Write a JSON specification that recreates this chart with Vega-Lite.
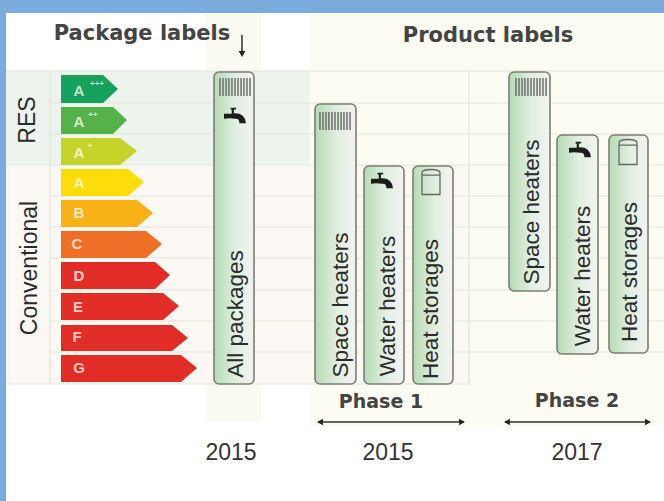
{
"$schema":"https://vega.github.io/schema/vega-lite/v6.json",
"width":664,"height":501,"padding":0,"autosize":{"type":"none"},
"background":"white",
"config":{"view":{"stroke":null},"axis":{"grid":false}},
"resolve":{"scale":{"color":"independent","shape":"independent"}},
"datasets":{
"regions":[
{"region":"Product labels","x":310,"x2":664,"y":13,"y2":426},
{"region":"Package labels","x":205,"x2":261,"y":13,"y2":421},
{"region":"RES","x":6,"x2":310,"y":71,"y2":165},
{"region":"Conventional","x":6,"x2":470,"y":165,"y2":384},
{"region":"Frame top","x":0,"x2":664,"y":0,"y2":13},
{"region":"Frame left","x":0,"x2":6,"y":0,"y2":501}
],
"grid":[
{"x":6,"x2":664,"y":71,"y2":71},{"x":50,"x2":664,"y":103,"y2":103},{"x":50,"x2":664,"y":134,"y2":134},
{"x":6,"x2":664,"y":165,"y2":165},{"x":50,"x2":664,"y":196,"y2":196},{"x":50,"x2":664,"y":227,"y2":227},
{"x":50,"x2":664,"y":258,"y2":258},{"x":50,"x2":664,"y":290,"y2":290},{"x":50,"x2":664,"y":321,"y2":321},
{"x":50,"x2":664,"y":352,"y2":352},{"x":6,"x2":470,"y":384,"y2":384},
{"x":50,"x2":50,"y":71,"y2":384},{"x":469,"x2":469,"y":71,"y2":385}
],
"tags":[
{"c":"A+++","x":61,"y":75,"y2":103},{"c":"A+++","x":103,"y":75,"y2":103},{"c":"A+++","x":118,"y":89,"y2":89},
{"c":"A++","x":61,"y":107,"y2":134},{"c":"A++","x":113,"y":107,"y2":134},{"c":"A++","x":127,"y":120,"y2":120},
{"c":"A+","x":61,"y":138,"y2":165},{"c":"A+","x":120,"y":138,"y2":165},{"c":"A+","x":137,"y":151,"y2":151},
{"c":"A","x":61,"y":169,"y2":196},{"c":"A","x":128,"y":169,"y2":196},{"c":"A","x":144,"y":182,"y2":182},
{"c":"B","x":61,"y":200,"y2":227},{"c":"B","x":137,"y":200,"y2":227},{"c":"B","x":153,"y":213,"y2":213},
{"c":"C","x":61,"y":231,"y2":258},{"c":"C","x":146,"y":231,"y2":258},{"c":"C","x":162,"y":244,"y2":244},
{"c":"D","x":61,"y":262,"y2":289},{"c":"D","x":155,"y":262,"y2":289},{"c":"D","x":170,"y":275,"y2":275},
{"c":"E","x":61,"y":293,"y2":320},{"c":"E","x":163,"y":293,"y2":320},{"c":"E","x":179,"y":306,"y2":306},
{"c":"F","x":61,"y":325,"y2":351},{"c":"F","x":172,"y":325,"y2":351},{"c":"F","x":188,"y":338,"y2":338},
{"c":"G","x":61,"y":355,"y2":382},{"c":"G","x":181,"y":355,"y2":382},{"c":"G","x":197,"y":368,"y2":368}
],
"tagLetters":[
{"t":"A","x":79,"y":91},{"t":"A","x":79,"y":122},{"t":"A","x":79,"y":153},{"t":"A","x":79,"y":183},
{"t":"B","x":79,"y":213},{"t":"C","x":77,"y":244},{"t":"D","x":79,"y":276},{"t":"E","x":78,"y":307},
{"t":"F","x":77,"y":337},{"t":"G","x":79,"y":368}
],
"tagPlus":[{"t":"+++","x":97,"y":84},{"t":"++","x":93,"y":115},{"t":"+","x":90,"y":146}],
"bars":[
{"name":"All packages","x":214,"x2":254,"y":72,"y2":384},
{"name":"Space heaters","x":315,"x2":356,"y":104,"y2":384},
{"name":"Water heaters","x":364,"x2":404,"y":166,"y2":384},
{"name":"Heat storages","x":413,"x2":453,"y":166,"y2":384},
{"name":"Space heaters","x":509,"x2":550,"y":72,"y2":291},
{"name":"Water heaters","x":557,"x2":598,"y":135,"y2":354},
{"name":"Heat storages","x":609,"x2":648,"y":135,"y2":353}
],
"barText":[
{"t":"All packages","x":236,"y":314},
{"t":"Space heaters","x":341,"y":305},
{"t":"Water heaters","x":388,"y":306},
{"t":"Heat storages","x":431,"y":309},
{"t":"Space heaters","x":532,"y":212},
{"t":"Water heaters","x":583,"y":276},
{"t":"Heat storages","x":630,"y":272}
],
"radiators":[{"x":235,"y":87},{"x":335,"y":121},{"x":531,"y":87}],
"faucets":[{"x":235,"y":116},{"x":382,"y":181},{"x":580,"y":150}],
"tanks":[{"x":431,"y":182},{"x":628,"y":152}],
"heads":[
{"t":"Package labels","x":142,"y":34},
{"t":"Product labels","x":488,"y":36}
],
"phases":[
{"t":"Phase 1","x":381,"y":402},
{"t":"Phase 2","x":577,"y":401}
],
"side":[{"t":"RES","x":28,"y":120},{"t":"Conventional","x":30,"y":268}],
"years":[{"t":"2015","x":231,"y":453},{"t":"2015","x":388,"y":453},{"t":"2017","x":577,"y":453}],
"arrowLines":[
{"x":242,"x2":242,"y":35,"y2":54},
{"x":318,"x2":464,"y":422,"y2":422},
{"x":505,"x2":650,"y":422,"y2":422}
],
"arrowHeads":[
{"d":"down","x":242,"y":54},
{"d":"left","x":320,"y":422},{"d":"right","x":462,"y":422},
{"d":"left","x":507,"y":422},{"d":"right","x":648,"y":422}
]
},
"encoding":{
"x":{"field":"x","type":"quantitative","axis":null,"scale":{"domain":[0,664],"nice":false,"zero":false}},
"y":{"field":"y","type":"quantitative","axis":null,"scale":{"domain":[0,501],"nice":false,"zero":false,"reverse":true}}
},
"layer":[
{"data":{"name":"regions"},"mark":{"type":"rect"},
"encoding":{"x2":{"field":"x2"},"y2":{"field":"y2"},
"color":{"field":"region","type":"nominal","legend":null,"scale":{"domain":["Product labels","Package labels","RES","Conventional","Frame top","Frame left"],"range":["#fcfcf3","#fafaf1","#edf4ee","#fcf8f3","#7aabdc","#7aabdc"]}}}},
{"data":{"name":"grid"},"mark":{"type":"rule","color":"#e4e4d8","strokeWidth":1.2},
"encoding":{"x2":{"field":"x2"},"y2":{"field":"y2"}}},
{"data":{"name":"tags"},"mark":{"type":"area","orient":"vertical","opacity":0.97},
"encoding":{"y2":{"field":"y2"},
"color":{"field":"c","type":"nominal","legend":null,"scale":{"domain":["A+++","A++","A+","A","B","C","D","E","F","G"],"range":["#0e9e57","#4fb044","#c2d321","#fcdc00","#f8b00f","#ee6a1f","#e1261f","#e1261f","#e1261f","#e1261f"]}}}},
{"data":{"name":"tagLetters"},"mark":{"type":"text","font":"Liberation Sans","fontWeight":"bold","fontSize":15,"color":"#ffffff","opacity":0.75,"align":"center","baseline":"middle"},
"encoding":{"text":{"field":"t"}}},
{"data":{"name":"tagPlus"},"mark":{"type":"text","font":"Liberation Sans","fontWeight":"bold","fontSize":8,"color":"#ffffff","opacity":0.75,"align":"center","baseline":"middle"},
"encoding":{"text":{"field":"t"}}},
{"data":{"name":"bars"},"mark":{"type":"rect","cornerRadius":5,"stroke":"#7d7d75","strokeWidth":1.6,
"fill":{"x1":0,"y1":0,"x2":1,"y2":0,"gradient":"linear","stops":[{"offset":0,"color":"#b5dbb3"},{"offset":0.55,"color":"#e2efe2"},{"offset":1,"color":"#f3f3f1"}]}},
"encoding":{"x2":{"field":"x2"},"y2":{"field":"y2"}}},
{"data":{"name":"barText"},"mark":{"type":"text","font":"Liberation Sans","fontSize":22.5,"color":"#2b2b2b","angle":270,"align":"center","baseline":"middle"},
"encoding":{"text":{"field":"t"}}},
{"data":{"name":"radiators"},"mark":{"type":"point","filled":false,"size":1024,"stroke":"#5c5c5c","strokeWidth":1.3,"opacity":1,
"shape":"M-0.94,-0.56L-0.94,0.56M-0.75,-0.56L-0.75,0.56M-0.56,-0.56L-0.56,0.56M-0.38,-0.56L-0.38,0.56M-0.19,-0.56L-0.19,0.56M0,-0.56L0,0.56M0.19,-0.56L0.19,0.56M0.38,-0.56L0.38,0.56M0.56,-0.56L0.56,0.56M0.75,-0.56L0.75,0.56M0.94,-0.56L0.94,0.56"}},
{"data":{"name":"faucets"},"mark":{"type":"point","filled":true,"size":484,"fill":"#1c1c1c","stroke":null,"opacity":1,
"shape":"M-1,-0.2L-0.3,-0.2L-0.3,-0.4L-0.1,-0.4L-0.1,-0.25Q0.9,-0.3 1,0.65L0.4,0.65Q0.4,0.2 0,0.25L-0.5,0.2L-1,0.25ZM-0.4,-0.75L0.1,-0.75L0.1,-0.6L-0.1,-0.6L-0.1,-0.4L-0.3,-0.4L-0.3,-0.6L-0.4,-0.6Z"}},
{"data":{"name":"tanks"},"mark":{"type":"point","filled":false,"size":625,"stroke":"#666666","strokeWidth":1.3,"opacity":1,
"shape":"M-0.72,1L0.72,1L0.72,-0.75Q0.7,-1 0,-1Q-0.7,-1 -0.72,-0.75ZM-0.72,-0.55L0.72,-0.55"}},
{"data":{"name":"heads"},"mark":{"type":"text","font":"DejaVu Sans","fontWeight":"bold","fontSize":21,"color":"#444444","align":"center","baseline":"middle"},
"encoding":{"text":{"field":"t"}}},
{"data":{"name":"phases"},"mark":{"type":"text","font":"DejaVu Sans","fontWeight":"bold","fontSize":19,"color":"#444444","align":"center","baseline":"middle"},
"encoding":{"text":{"field":"t"}}},
{"data":{"name":"side"},"mark":{"type":"text","font":"Liberation Sans","fontSize":23,"color":"#2b2b2b","angle":270,"align":"center","baseline":"middle"},
"encoding":{"text":{"field":"t"}}},
{"data":{"name":"years"},"mark":{"type":"text","font":"Liberation Sans","fontSize":23,"color":"#333333","align":"center","baseline":"middle"},
"encoding":{"text":{"field":"t"}}},
{"data":{"name":"arrowLines"},"mark":{"type":"rule","color":"#333333","strokeWidth":1.5},
"encoding":{"x2":{"field":"x2"},"y2":{"field":"y2"}}},
{"data":{"name":"arrowHeads"},"mark":{"type":"point","filled":true,"size":45,"opacity":1,"color":"#222222"},
"encoding":{"shape":{"field":"d","type":"nominal","legend":null,"scale":{"domain":["down","left","right"],"range":["triangle-down","triangle-left","triangle-right"]}}}}
]
}
